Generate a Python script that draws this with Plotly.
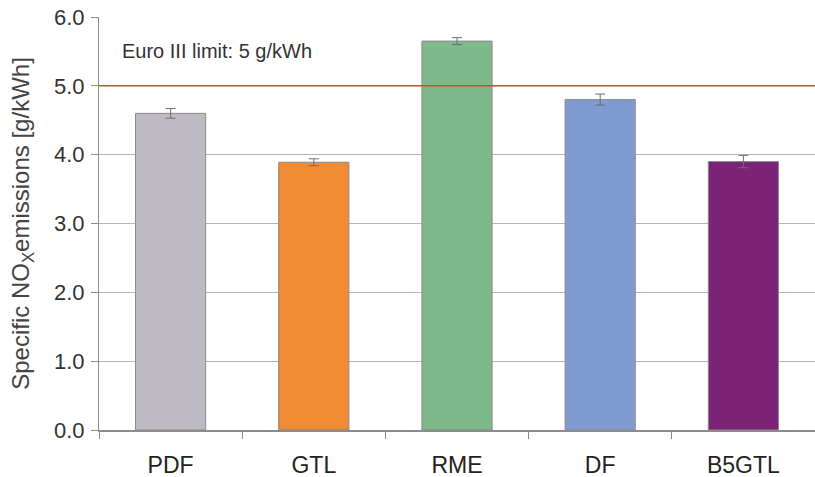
import plotly.graph_objects as go

categories = ["PDF", "GTL", "RME", "DF", "B5GTL"]
values = [4.6, 3.89, 5.65, 4.8, 3.9]
errors = [0.07, 0.05, 0.05, 0.08, 0.09]
colors = ["#bdbac3", "#f08a33", "#7db98b", "#7f9bd1", "#7c2378"]
limit_value = 5.0
y_ticks = [0, 1, 2, 3, 4, 5, 6]
y_tick_labels = ["0.0", "1.0", "2.0", "3.0", "4.0", "5.0", "6.0"]

FONT = "Liberation Sans, Arial, sans-serif"

fig = go.Figure()
fig.add_trace(go.Bar(
    x=categories, y=values,
    marker=dict(color=colors, line=dict(color="#8a8a8a", width=1)),
    width=0.49,
    error_y=dict(type="data", array=errors, color="#6e6e6e", thickness=1, width=5),
    showlegend=False,
))
fig.add_shape(type="line", xref="paper", x0=0, x1=1, yref="y", y0=limit_value, y1=limit_value,
              line=dict(color="#e8402e", width=1.5))
fig.add_annotation(text="Euro III limit: 5 g/kWh", xref="paper", yref="y", x=0.029, y=5.5,
                   xanchor="left", yanchor="middle", showarrow=False,
                   font=dict(family=FONT, size=20, color="#333333"))

fig.update_layout(
    width=815, height=477,
    margin=dict(l=99, r=0, t=17, b=47, autoexpand=False),
    paper_bgcolor="white", plot_bgcolor="white",
    font=dict(family=FONT, color="#333333"),
)
fig.update_yaxes(
    range=[0, 6], tickvals=y_ticks, ticktext=y_tick_labels,
    showgrid=True, gridcolor="#b5b5b5", gridwidth=1,
    showline=True, linecolor="#8c8c8c", linewidth=1,
    ticks="outside", ticklen=7, tickcolor="#8c8c8c",
    tickfont=dict(family=FONT, size=22, color="#333333"),
    ticklabelstandoff=2,
    title=dict(text="Specific NO<sub>X</sub>emissions [g/kWh]", font=dict(family=FONT, size=24, color="#444444"), standoff=17),
    zeroline=False, automargin=False,
)
fig.update_xaxes(
    range=[-0.5, 4.5],
    showline=True, linecolor="#8c8c8c", linewidth=1.5,
    ticks="outside", tickson="boundaries", ticklen=7, tickcolor="#8c8c8c",
    tickfont=dict(family=FONT, size=23, color="#222222"),
    ticklabelstandoff=14,
    showgrid=False, automargin=False,
)
fig.write_html("out.html", config={"displayModeBar": False},
               post_script="document.body.style.margin='0';")
